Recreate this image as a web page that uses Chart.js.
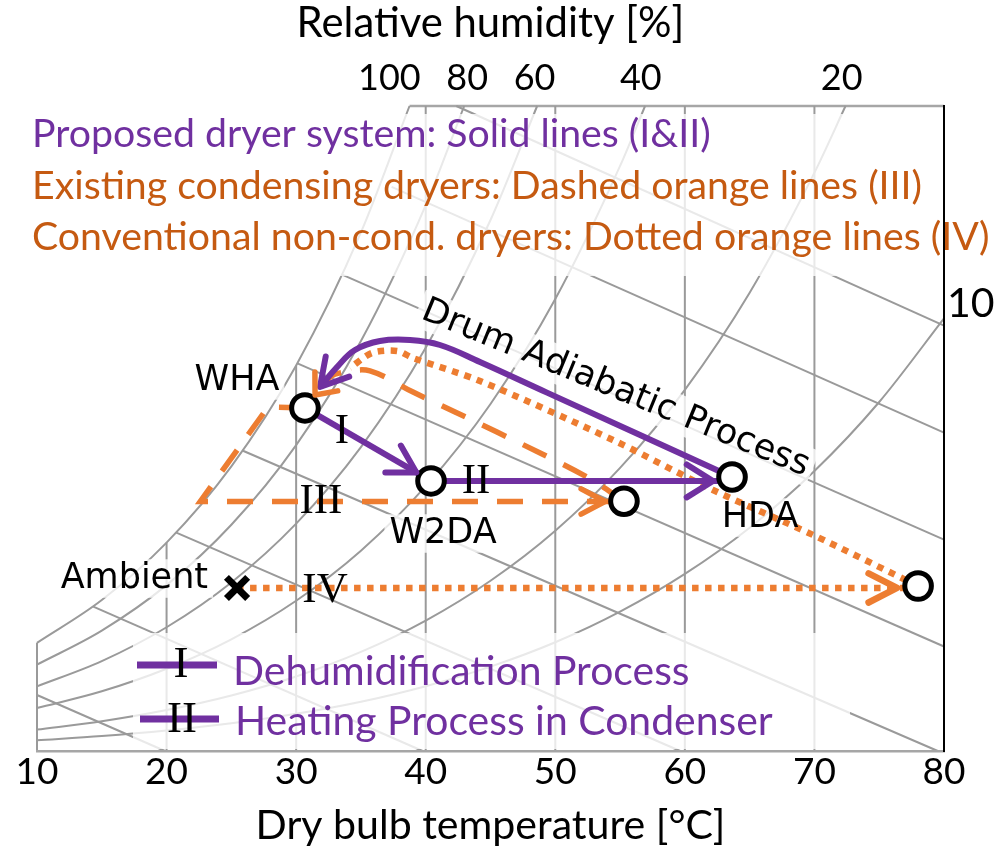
<!DOCTYPE html>
<html lang="en">
<head>
<meta charset="utf-8">
<title>Psychrometric chart - dryer processes</title>
<script src="https://cdn.jsdelivr.net/npm/chart.js@4.4.1/dist/chart.umd.min.js"></script>
<style>
  html, body { margin: 0; padding: 0; background: #ffffff; }
  canvas { display: block; }
</style>
</head>
<body>
<canvas id="chart" width="999" height="849"></canvas>
<script>
// x: dry bulb temperature [°C], y: humidity ratio [g/kg dry air]
const rhLabels = ["100", "80", "60", "40", "20"];
const rhLabelTemps = [37.2, 43.2, 48.4, 56.6, 72.1];
const rhEdgeLabel = "10";

// relative humidity curves, [T, W]
const rhLevels = [100, 80, 60, 40, 20, 10];
const rh100 = [[10, 7.63], [15, 10.65], [20, 14.70], [25, 20.08], [30, 27.20], [35, 36.58], [38.75, 45.5]];
const rh80 = [[10, 6.09], [15, 8.49], [20, 11.70], [25, 15.96], [30, 21.58], [35, 28.92], [40, 38.51], [42.97, 45.5]];
const rh60 = [[10, 4.56], [15, 6.34], [20, 8.73], [25, 11.89], [30, 16.04], [35, 21.44], [40, 28.44], [45, 37.46], [48.6, 45.5]];
const rh40 = [[10, 3.03], [15, 4.21], [20, 5.80], [25, 7.88], [30, 10.60], [35, 14.13], [40, 18.68], [45, 24.48], [50, 31.88], [55, 41.27], [56.93, 45.5]];
const rh20 = [[10, 1.51], [15, 2.10], [20, 2.89], [25, 3.92], [30, 5.26], [35, 6.99], [40, 9.20], [45, 12.01], [50, 15.54], [55, 19.97], [60, 25.48], [65, 32.33], [70, 40.80], [72.4, 45.5]];
const rh10 = [[10, 0.76], [15, 1.05], [20, 1.44], [25, 1.95], [30, 2.62], [35, 3.47], [40, 4.57], [45, 5.95], [50, 7.67], [55, 9.83], [60, 12.49], [65, 15.75], [70, 19.75], [75, 24.62], [80, 30.52]];

// constant enthalpy lines [kJ/kg], start and end points
const enthalpyLevels = [20, 40, 60, 80, 100, 120, 140, 160];
const enthalpyLines = [
  [[10, 3.95], [19.88, 0]],
  [[14.3, 10.2], [39.76, 0]],
  [[20.75, 15.4], [59.64, 0]],
  [[25.85, 21.2], [79.52, 0]],
  [[30.1, 27.35], [80, 7.37]],
  [[33.55, 33.6], [80, 14.91]],
  [[37.37, 39.8], [80, 22.46]],
  [[42.36, 45.5], [80, 30.01]]
];

// dry bulb lines and the humidity ratio where each one starts
const dryBulbTemps = [10, 20, 30, 40, 50, 60, 70];
const dryBulbTops = [7.63, 14.70, 27.20, 45.5, 45.5, 45.5, 45.5];
const topEdge = [[38.75, 45.5], [80, 45.5]];

// states
const stateNames = ["WHA", "W2DA", "HDA", "Ambient"];
const whaPt = [30.68, 24.20];
const w2daPt = [40.41, 19.05];
const hdaPt = [63.64, 19.33];
const condensingEnd = [55.30, 17.62];
const conventionalEnd = [78.00, 11.64];
const ambientPt = [25.44, 11.50];

// process paths
const dehumidification = [[30.68, 24.20], [40.41, 19.05]];
const condenserHeating = [[40.41, 19.05], [63.64, 19.05]];
const drumProposed = [[63.64, 19.33], [49.36, 25.28], [44.19, 27.44], [41.10, 28.64], [38.79, 28.99], [36.47, 28.92], [34.54, 28.29], [33.23, 27.16], [31.84, 25.68]];
const condensingCycle = [[30.68, 24.20], [27.83, 24.27], [22.6, 17.6], [55.30, 17.6]];
const condensingReturn = [[55.30, 17.62], [52.45, 19.33], [45.50, 22.50], [39.02, 25.32], [35.70, 26.81], [33.77, 26.74], [32.61, 26.38], [31.46, 25.11]];
const conventionalHeating = [[25.44, 11.50], [78.00, 11.50]];
const conventionalDrum = [[78.00, 11.64], [69.89, 15.24], [62.17, 18.41], [54.45, 21.94], [44.19, 26.10], [39.02, 27.72], [37.78, 28.22], [35.85, 28.08], [34.16, 27.02]];

const headerLines = [
  "Proposed dryer system: Solid lines (I&II)",
  "Existing condensing dryers: Dashed orange lines (III)",
  "Conventional non-cond. dryers: Dotted orange lines (IV)"
];
const processNumerals = ["I", "II", "III", "IV"];
const legendTexts = ["Dehumidification Process", "Heating Process in Condenser"];
const drumText = "Drum Adiabatic Process";
const xTitle = "Dry bulb temperature [°C]";
const topTitle = "Relative humidity [%]";

const GRID_GREY = "#9a9a9a";
const PURPLE = "#7030a0";
const ORANGE = "#ed7d31";
const ORANGE_TEXT = "#c55a11";
const SANS = "Lato";
const LABEL_FONT = "'DejaVu Sans'";
const SERIF = "'Liberation Serif'";
const LABEL_SIZE = 35;
const NUMERAL_SIZE = 43;

const probe = document.createElement("canvas").getContext("2d");
function fitSize(text, family, width) {
  probe.font = "100px " + family;
  return 100 * width / probe.measureText(text).width;
}
const headerSize = fitSize(headerLines[2], SANS, 958);
const legendSize = fitSize(legendTexts[1], SANS, 538);
const xTitleSize = fitSize(xTitle, SANS, 470);
const topTitleSize = fitSize(topTitle, SANS, 388);

function pts(arr) {
  return arr.map(p => ({ x: p[0], y: p[1] }));
}

function px(chart, p) {
  return { x: chart.scales.x.getPixelForValue(p[0]), y: chart.scales.y.getPixelForValue(p[1]) };
}

function processLine(label, data, color, width, dash, tension, arrowHead) {
  return {
    label, data: pts(data), showLine: true, borderColor: color, borderWidth: width,
    borderDash: dash, tension, pointRadius: 0, pointHoverRadius: 0, order: 1, clip: false, arrowHead
  };
}

function gridLine(label, data, smooth, color, width) {
  return {
    label, data: pts(data), showLine: true, borderColor: color || GRID_GREY, borderWidth: width || 2,
    pointRadius: 0, pointHoverRadius: 0, tension: 0,
    cubicInterpolationMode: smooth ? "monotone" : "default", order: 2, clip: false
  };
}

const datasets = [];
datasets.push({
  label: "states", data: pts([whaPt, w2daPt, hdaPt, condensingEnd, conventionalEnd]),
  showLine: false, pointRadius: 13.3, pointHoverRadius: 13.3, pointBorderWidth: 5,
  pointBorderColor: "#000", pointBackgroundColor: "#fff", order: 0, clip: false
});
datasets.push({
  label: "ambient", data: pts([ambientPt]), showLine: false, pointStyle: "crossRot",
  pointRadius: 15, pointHoverRadius: 15, pointBorderWidth: 7, pointBorderColor: "#000",
  order: 0, clip: false
});
datasets.push(processLine("I", dehumidification, PURPLE, 6, [], 0, { inset: 17, len: 31, half: 30 }));
datasets.push(processLine("II", condenserHeating, PURPLE, 6, [], 0, { inset: 19, len: 31, half: 32 }));
datasets.push(processLine("drum proposed", drumProposed, PURPLE, 6, [], 0.4, { inset: 0, len: 31, half: 30 }));
datasets.push(processLine("III", condensingCycle, ORANGE, 5.5, [26, 19], 0, { inset: 19, len: 27, half: 28 }));
datasets.push(processLine("III return", condensingReturn, ORANGE, 5.5, [26, 19], 0.35, { inset: 0, len: 23, half: 40 }));
datasets.push(processLine("IV", conventionalHeating, ORANGE, 6.5, [6.5, 6.5], 0, { inset: 21, len: 32, half: 27 }));
datasets.push(processLine("IV return", conventionalDrum, ORANGE, 6.5, [6.5, 6.5], 0.3, null));

[rh100, rh80, rh60, rh40, rh20, rh10].forEach((c, i) => {
  datasets.push(gridLine("RH " + rhLevels[i], c, true));
});
enthalpyLines.forEach((l, i) => {
  datasets.push(gridLine("h " + enthalpyLevels[i], l, false));
});
dryBulbTemps.forEach((t, i) => {
  datasets.push(gridLine("T " + t, [[t, dryBulbTops[i]], [t, 0]], false));
});
datasets.push(gridLine("top edge", topEdge, false, "#a6a6a6", 2.5));

function stateLabels(chart) {
  const wha = px(chart, whaPt), w2da = px(chart, w2daPt), hda = px(chart, hdaPt), amb = px(chart, ambientPt);
  return [
    { text: stateNames[0], x: wha.x - 68, y: wha.y - 18, align: "center" },
    { text: stateNames[1], x: w2da.x + 12, y: w2da.y + 62, align: "center" },
    { text: stateNames[2], x: hda.x + 28, y: hda.y + 50, align: "center" },
    { text: stateNames[3], x: amb.x - 29, y: amb.y, align: "right" },
    { text: drumText, x: hda.x - 120, y: hda.y - 80, align: "center", angle: 22.3 }
  ];
}

function drawFadeBoxes(chart) {
  const c = chart.ctx;
  c.save();
  c.fillStyle = "rgba(255,255,255,0.78)";
  c.fillRect(28, 114, 912, 162);
  c.fillRect(133, 633, 717, 116);
  c.font = LABEL_SIZE + "px " + LABEL_FONT;
  stateLabels(chart).forEach(l => {
    const w = c.measureText(l.text).width;
    const left = l.align === "center" ? -w / 2 : (l.align === "right" ? -w : 0);
    c.save();
    c.translate(l.x, l.y);
    if (l.angle) c.rotate(l.angle * Math.PI / 180);
    c.fillRect(left - 5, -LABEL_SIZE * 0.82, w + 10, LABEL_SIZE * 1.1);
    c.restore();
  });
  c.restore();
}

function drawArrowHeads(chart) {
  const c = chart.ctx;
  chart.data.datasets.forEach((ds, i) => {
    if (!ds.arrowHead) return;
    const el = chart.getDatasetMeta(i).data;
    const a = el[el.length - 2], b = el[el.length - 1];
    let dx = b.x - a.x, dy = b.y - a.y;
    const d = Math.hypot(dx, dy);
    dx /= d; dy /= d;
    const tx = b.x - dx * ds.arrowHead.inset, ty = b.y - dy * ds.arrowHead.inset;
    const h = ds.arrowHead.half * Math.PI / 180, len = ds.arrowHead.len;
    const bx = -dx, by = -dy;
    const cos = Math.cos(h), sin = Math.sin(h);
    c.save();
    c.setLineDash([]);
    c.strokeStyle = ds.borderColor;
    c.lineWidth = ds.borderWidth;
    c.lineCap = "round";
    c.lineJoin = "round";
    c.beginPath();
    c.moveTo(tx + (bx * cos - by * sin) * len, ty + (bx * sin + by * cos) * len);
    c.lineTo(tx, ty);
    c.lineTo(tx + (bx * cos + by * sin) * len, ty + (-bx * sin + by * cos) * len);
    c.stroke();
    c.restore();
  });
}

function text(c, str, x, y, font, color, align) {
  c.font = font;
  c.fillStyle = color;
  c.textAlign = align || "left";
  c.textBaseline = "alphabetic";
  c.fillText(str, x, y);
}

function drawTexts(chart) {
  const c = chart.ctx;
  c.save();
  // header block
  const headerColors = [PURPLE, ORANGE_TEXT, ORANGE_TEXT];
  const headerBase = [147, 199, 250];
  headerLines.forEach((s, i) => text(c, s, 32, headerBase[i], headerSize + "px " + SANS, headerColors[i]));

  // state labels
  stateLabels(chart).forEach(l => {
    c.save();
    c.translate(l.x, l.y);
    if (l.angle) c.rotate(l.angle * Math.PI / 180);
    text(c, l.text, 0, 0, LABEL_SIZE + "px " + LABEL_FONT, "#000", l.align);
    c.restore();
  });

  // process numerals
  const wha = px(chart, whaPt), w2da = px(chart, w2daPt), amb = px(chart, ambientPt);
  const nf = NUMERAL_SIZE + "px " + SERIF;
  text(c, processNumerals[0], wha.x + 37, wha.y + 35, nf, "#000", "center");
  text(c, processNumerals[1], w2da.x + 45, w2da.y + 12, nf, "#000", "center");
  text(c, processNumerals[2], wha.x + 16, wha.y + 105, nf, "#000", "center");
  text(c, processNumerals[3], amb.x + 88, amb.y + 14, nf, "#000", "center");

  // 10 % label at the right edge
  const edge = px(chart, rh10[rh10.length - 1]);
  text(c, rhEdgeLabel, edge.x + 3, edge.y - 1, "41px " + SANS, "#000", "left");

  // legend
  const rows = [
    { y: 665, x1: 137, x2: 217, nx: 181, ny: 677, tx: 233, ty: 685 },
    { y: 719, x1: 140, x2: 219, nx: 182, ny: 732, tx: 235, ty: 735 }
  ];
  rows.forEach((r, i) => {
    c.strokeStyle = PURPLE;
    c.lineWidth = 7;
    c.setLineDash([]);
    c.beginPath();
    c.moveTo(r.x1, r.y);
    c.lineTo(r.x2, r.y);
    c.stroke();
    text(c, processNumerals[i], r.nx, r.ny, "45px " + SERIF, "#000", "center");
    text(c, legendTexts[i], r.tx, r.ty, legendSize + "px " + SANS, PURPLE, "left");
  });
  c.restore();
}

const overlayPlugin = {
  id: "overlay",
  beforeDatasetsDraw(chart) {
    chart.$fadeDone = false;
  },
  beforeDatasetDraw(chart, args) {
    if (chart.$fadeDone || chart.data.datasets[args.index].order !== 1) return;
    chart.$fadeDone = true;
    drawFadeBoxes(chart);
  },
  afterDatasetsDraw(chart) {
    drawArrowHeads(chart);
    drawTexts(chart);
  }
};

const ctx = document.getElementById("chart").getContext("2d");
const chart = new Chart(ctx, {
  type: "scatter",
  data: { datasets },
  options: {
    responsive: false,
    animation: false,
    devicePixelRatio: 1,
    events: [],
    layout: { padding: { left: 37, top: 0, right: 0, bottom: 0 } },
    plugins: { legend: { display: false }, tooltip: { enabled: false } },
    scales: {
      x: {
        type: "linear", position: "bottom", min: 10, max: 80,
        grid: { display: false, drawTicks: false },
        border: { display: true, color: "#a6a6a6", width: 2.5, z: 1 },
        ticks: { stepSize: 10, autoSkip: false, maxRotation: 0, padding: 3, color: "#000", font: { family: SANS, size: 37, lineHeight: 1 } },
        title: { display: true, text: xTitle, color: "#000", font: { family: SANS, size: xTitleSize, lineHeight: 1 }, padding: { top: 0, bottom: 849 - 825.5 - xTitleSize / 2 } },
        afterFit: s => { s.height = 98; }
      },
      xTop: {
        type: "linear", position: "top", min: 10, max: 80,
        grid: { display: false, drawTicks: false },
        border: { display: false },
        afterBuildTicks: s => { s.ticks = rhLabelTemps.map(v => ({ value: v })); },
        ticks: { autoSkip: false, maxRotation: 0, padding: 9.5, color: "#000", font: { family: SANS, size: 36, lineHeight: 1 }, callback: (v, i) => rhLabels[i] },
        title: { display: true, text: topTitle, color: "#000", font: { family: SANS, size: topTitleSize, lineHeight: 1 }, padding: { top: 24 - topTitleSize / 2, bottom: 0 } },
        afterFit: s => { s.height = 106; }
      },
      y: { type: "linear", display: false, min: 0, max: 45.5 },
      yRight: {
        type: "linear", position: "right", min: 0, max: 45.5,
        grid: { display: false, drawTicks: false },
        border: { display: true, color: "#000", width: 2, z: 1 },
        ticks: { display: false },
        afterFit: s => { s.width = 55; }
      }
    }
  },
  plugins: [overlayPlugin]
});
</script>
</body>
</html>
